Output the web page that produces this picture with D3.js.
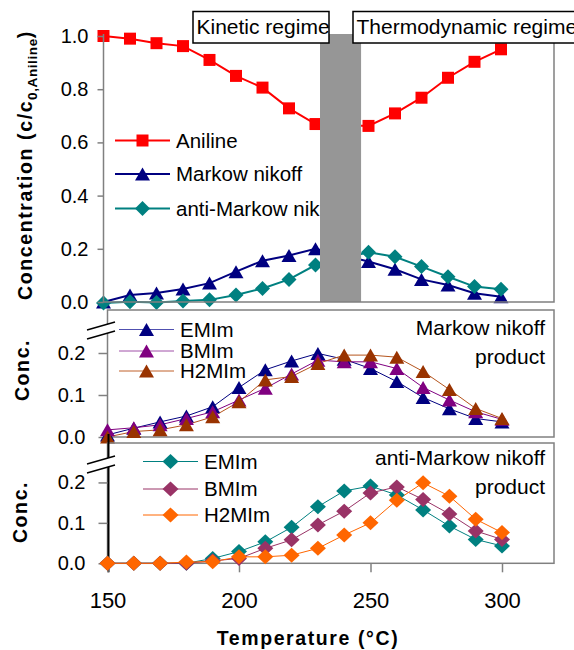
<!DOCTYPE html>
<html>
<head>
<meta charset="utf-8">
<script src="https://cdn.jsdelivr.net/npm/d3@7"></script>
<style>
  body { margin: 0; background: #fff; }
  svg { display: block; font-family: "Liberation Sans", Arial, sans-serif; }
  .tick text { font-size: 20px; fill: #000; }
  .xaxis .tick text { font-size: 22px; }
  .leg { font-size: 20.5px; }
  .note { font-size: 21px; }
  .title { font-size: 19.5px; font-weight: bold; letter-spacing: 1.6px; }
</style>
</head>
<body>
<div class="chart-area"></div>
<script>
// temperatures (°C)
var temps = [150, 160, 170, 180, 190, 200, 210, 220, 230, 240, 250, 260, 270, 280, 290, 300];

// top panel, c/c0 (240 lies behind the grey bar)
var aniline    = [1.0, 0.99, 0.973, 0.962, 0.91, 0.85, 0.806, 0.728, 0.669, null, 0.662, 0.709, 0.768, 0.843, 0.903, 0.95];
var markow     = [0.0, 0.026, 0.034, 0.049, 0.071, 0.114, 0.155, 0.175, 0.2, null, 0.152, 0.123, 0.085, 0.064, 0.033, 0.02];
var antiMarkow = [-0.004, 0.001, -0.002, 0.004, 0.008, 0.026, 0.051, 0.085, 0.139, null, 0.187, 0.17, 0.133, 0.095, 0.058, 0.048];

// Markownikoff product by ionic liquid
var mEMIm  = [0.005, 0.021, 0.036, 0.05, 0.072, 0.118, 0.16, 0.181, 0.199, 0.185, 0.163, 0.132, 0.094, 0.067, 0.044, 0.036];
var mBMIm  = [0.017, 0.022, 0.029, 0.044, 0.06, 0.088, 0.116, 0.15, 0.183, 0.179, 0.179, 0.163, 0.118, 0.088, 0.06, 0.042];
var mH2MIm = [0.0, 0.013, 0.017, 0.029, 0.048, 0.084, 0.136, 0.144, 0.175, 0.195, 0.195, 0.19, 0.156, 0.113, 0.068, 0.044];

// anti-Markownikoff product by ionic liquid
var aEMIm  = [0, 0, 0, 0, 0.012, 0.029, 0.053, 0.089, 0.14, 0.179, 0.191, 0.169, 0.132, 0.092, 0.059, 0.043];
var aBMIm  = [0, 0, 0, 0, 0.006, 0.012, 0.037, 0.058, 0.095, 0.129, 0.174, 0.189, 0.158, 0.122, 0.08, 0.059];
var aH2MIm = [0, 0, 0, 0.003, 0.004, 0.016, 0.016, 0.02, 0.037, 0.07, 0.1, 0.156, 0.199, 0.166, 0.109, 0.076];

var regimeGap = [231.7, 247.2];
var topTicks = [0, 0.2, 0.4, 0.6, 0.8, 1.0],
    lowTicks = [0, 0.1, 0.2],
    xTicks = [150, 200, 250, 300];

var width = 574, height = 650, right = 554;

var svg = d3.select(".chart-area")
            .append("svg")
            .attr("width", width)
            .attr("height", height);

var xTop = d3.scaleLinear().domain([150, 300]).range([103.5, 501]),
    xLow = d3.scaleLinear().domain([150, 300]).range([107.5, 502]),
    yTop = d3.scaleLinear().domain([0, 1]).range([302, 36]),
    yMid = d3.scaleLinear().domain([0, 0.3]).range([437, 311]),
    yBot = d3.scaleLinear().domain([0, 0.3]).range([563.3, 442]);

function markerPath(shape, w, h) {
  if (shape == "square") return "M" + (-w/2) + "," + (-h/2) + "h" + w + "v" + h + "h" + (-w) + "Z";
  if (shape == "triangle") return "M0," + (-h/2) + "L" + (w/2) + "," + (h/2) + "L" + (-w/2) + "," + (h/2) + "Z";
  return "M0," + (-h/2) + "L" + (w/2) + ",0L0," + (h/2) + "L" + (-w/2) + ",0Z";
}

function seriesData(values) {
  return temps.map(function(t, i) { return { t: t, v: values[i] } })
              .filter(function(d) { return d.v != null });
}

function drawLine(g, x, y, values, color, lw) {
  var line = d3.line().x(function(d) { return x(d.t) }).y(function(d) { return y(d.v) });
  g.append("path")
   .datum(seriesData(values))
   .attr("d", line)
   .attr("fill", "none")
   .attr("stroke", color)
   .attr("stroke-width", lw);
}

function drawMarkers(g, x, y, values, color, shape, w, h) {
  g.append("g").selectAll("path")
   .data(seriesData(values))
   .enter()
   .append("path")
   .attr("d", markerPath(shape, w, h))
   .attr("transform", function(d) { return "translate(" + x(d.t) + "," + y(d.v) + ")" })
   .attr("fill", color);
}

function legend(g, x0, y0, label, lineColor, color, lw, shape, w, h) {
  g.append("line").attr("x1", x0).attr("x2", x0 + 55).attr("y1", y0).attr("y2", y0)
   .attr("stroke", lineColor).attr("stroke-width", lw);
  g.append("path").attr("d", markerPath(shape, w, h))
   .attr("transform", "translate(" + (x0 + 27.5) + "," + y0 + ")").attr("fill", color);
  g.append("text").attr("class", "leg").attr("x", x0 + 61).attr("y", y0 + 7).text(label);
}

function yAxis(g, x, y, ticks, size, pad, color) {
  var ax = g.append("g")
            .attr("transform", "translate(" + x + ",0)")
            .call(d3.axisLeft(y).tickValues(ticks).tickSize(size).tickPadding(pad).tickFormat(d3.format(".1f")));
  ax.select(".domain").remove();
  ax.selectAll(".tick line").attr("stroke", color).attr("stroke-width", 1.5);
}

// ---------- top panel ----------
var topG = svg.append("g");
var topX0 = xTop.range()[0];

drawLine(topG, xTop, yTop, aniline, "#ff0000", 2);
drawLine(topG, xTop, yTop, markow, "#000080", 2);
drawLine(topG, xTop, yTop, antiMarkow, "#008080", 2);
drawMarkers(topG, xTop, yTop, aniline, "#ff0000", "square", 12, 12);
drawMarkers(topG, xTop, yTop, markow, "#000080", "triangle", 15, 13);
drawMarkers(topG, xTop, yTop, antiMarkow, "#008080", "diamond", 15, 15);

legend(topG, 115, 140.5, "Aniline", "#ff0000", "#ff0000", 2, "square", 12, 12);
legend(topG, 115, 174, "Markow nikoff", "#000080", "#000080", 2, "triangle", 15, 13);
legend(topG, 115, 208.5, "anti-Markow nikoff", "#008080", "#008080", 2, "diamond", 15, 15);

topG.append("rect")
   .attr("x", xTop(regimeGap[0]))
   .attr("y", 34)
   .attr("width", xTop(regimeGap[1]) - xTop(regimeGap[0]))
   .attr("height", yTop(0) - 34)
   .attr("fill", "#969696");

topG.append("path")
   .attr("d", "M" + topX0 + ",34V" + yTop(0) + "H" + right + "V34")
   .attr("fill", "none").attr("stroke", "#808080").attr("stroke-width", 1.5);
yAxis(topG, topX0, yTop, topTicks, 6, 9, "#808080");

// regime labels
var boxes = [
  { x: 193, w: 136, label: "Kinetic regime" },
  { x: 353, w: 240, label: "Thermodynamic regime" }
];
boxes.forEach(function(b) {
  topG.append("rect").attr("x", b.x).attr("y", 11.5).attr("width", b.w).attr("height", 31.5)
     .attr("fill", "#fff").attr("stroke", "#000").attr("stroke-width", 1.5);
  topG.append("text").attr("class", "note").attr("x", b.x + 3.5).attr("y", 34).text(b.label);
});

topG.append("text")
   .attr("class", "title")
   .attr("transform", "translate(32,165) rotate(-90)")
   .attr("text-anchor", "middle")
   .call(function(t) {
     t.append("tspan").text("Concentration (c/c");
     t.append("tspan").attr("dy", 5).attr("font-size", "13.5px").attr("letter-spacing", "0.6px").text("0,Aniline");
     t.append("tspan").attr("dy", -5).text(")");
   });

// ---------- middle panel ----------
var midG = svg.append("g");
var lowX0 = xLow.range()[0];

midG.append("rect")
   .attr("x", lowX0).attr("y", 310)
   .attr("width", right - lowX0).attr("height", yMid(0) - 310)
   .attr("fill", "none").attr("stroke", "#808080").attr("stroke-width", 1.5);
yAxis(midG, lowX0, yMid, lowTicks, 9, 13, "#808080");

drawLine(midG, xLow, yMid, mEMIm, "#000080", 1);
drawLine(midG, xLow, yMid, mBMIm, "#800080", 1);
drawLine(midG, xLow, yMid, mH2MIm, "#b5541c", 1);
drawMarkers(midG, xLow, yMid, mEMIm, "#000080", "triangle", 15, 13);
drawMarkers(midG, xLow, yMid, mBMIm, "#800080", "triangle", 15, 13);
drawMarkers(midG, xLow, yMid, mH2MIm, "#993300", "triangle", 15, 13);

legend(midG, 119, 329.5, "EMIm", "#5050b0", "#000080", 1, "triangle", 15, 13);
legend(midG, 119, 351, "BMIm", "#a050a8", "#800080", 1, "triangle", 15, 13);
legend(midG, 119, 371, "H2MIm", "#c0602a", "#993300", 1, "triangle", 15, 13);

midG.append("text").attr("class", "note").attr("x", 545).attr("y", 335).attr("text-anchor", "end").text("Markow nikoff");
midG.append("text").attr("class", "note").attr("x", 545).attr("y", 364).attr("text-anchor", "end").text("product");

midG.append("text")
   .attr("class", "title")
   .attr("transform", "translate(29,370) rotate(-90)")
   .attr("text-anchor", "middle")
   .text("Conc.");

// ---------- bottom panel ----------
var botG = svg.append("g");

botG.append("rect")
   .attr("x", lowX0).attr("y", 443)
   .attr("width", right - lowX0).attr("height", yBot(0) - 443)
   .attr("fill", "none").attr("stroke", "#808080").attr("stroke-width", 1.5);
botG.append("line")
   .attr("x1", lowX0 + 1).attr("x2", lowX0 + 1).attr("y1", 434).attr("y2", yBot(0) + 9)
   .attr("stroke", "#000").attr("stroke-width", 2);
yAxis(botG, lowX0, yBot, lowTicks, 9, 13, "#808080");

var xa = botG.append("g")
            .attr("class", "xaxis")
            .attr("transform", "translate(0," + yBot(0) + ")")
            .call(d3.axisBottom(xLow).tickValues(xTicks).tickSize(9).tickPadding(20));
xa.select(".domain").remove();
xa.selectAll(".tick line").attr("stroke", "#808080").attr("stroke-width", 1.5);

drawLine(botG, xLow, yBot, aEMIm, "#008080", 1);
drawLine(botG, xLow, yBot, aBMIm, "#993366", 1);
drawLine(botG, xLow, yBot, aH2MIm, "#ff6600", 1);
drawMarkers(botG, xLow, yBot, aEMIm, "#008080", "diamond", 16, 15);
drawMarkers(botG, xLow, yBot, aBMIm, "#993366", "diamond", 16, 15);
drawMarkers(botG, xLow, yBot, aH2MIm, "#ff6600", "diamond", 16, 15);

legend(botG, 143, 461.5, "EMIm", "#008080", "#008080", 1, "diamond", 16, 15);
legend(botG, 143, 489, "BMIm", "#993366", "#993366", 1, "diamond", 16, 15);
legend(botG, 143, 515, "H2MIm", "#ff6600", "#ff6600", 1, "diamond", 16, 15);

botG.append("text").attr("class", "note").attr("x", 545).attr("y", 465).attr("text-anchor", "end").text("anti-Markow nikoff");
botG.append("text").attr("class", "note").attr("x", 545).attr("y", 494).attr("text-anchor", "end").text("product");

botG.append("text")
   .attr("class", "title")
   .attr("transform", "translate(27,512) rotate(-90)")
   .attr("text-anchor", "middle")
   .text("Conc.");

svg.append("text")
   .attr("class", "title")
   .attr("x", 308)
   .attr("y", 645)
   .attr("text-anchor", "middle")
   .text("Temperature (°C)");

// axis break marks
[[330, 339], [464, 473]].forEach(function(p) {
  svg.append("path")
     .attr("d", "M87," + p[0] + "L115," + (p[0] - 8) + "L115," + (p[1] - 8) + "L87," + p[1] + "Z")
     .attr("fill", "#fff");
  p.forEach(function(yy) {
    svg.append("line").attr("x1", 87).attr("y1", yy).attr("x2", 115).attr("y2", yy - 8)
       .attr("stroke", "#000").attr("stroke-width", 1.5);
  });
});
</script>
</body>
</html>
